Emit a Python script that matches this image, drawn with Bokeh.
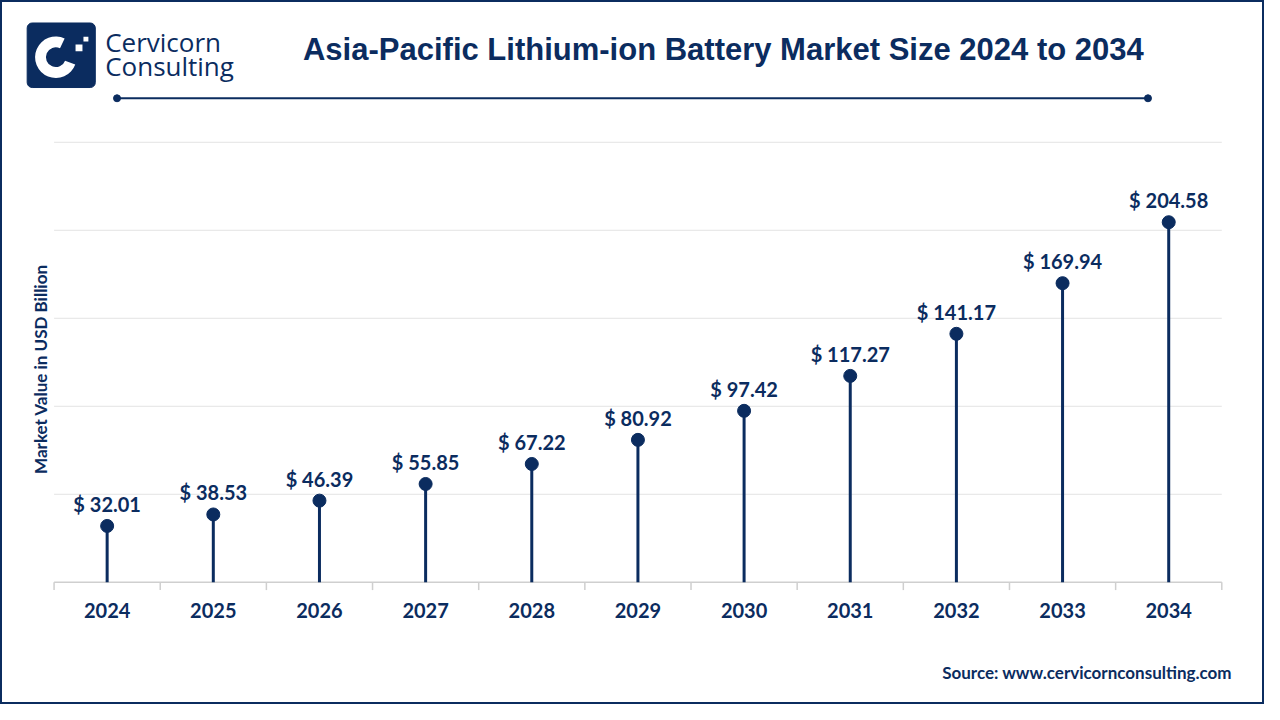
from bokeh.plotting import figure
from bokeh.models import Range1d
from bokeh.core.properties import value
from bokeh.embed import file_html
from bokeh.resources import INLINE

# ---- data ----
years = ["2024", "2025", "2026", "2027", "2028", "2029", "2030", "2031", "2032", "2033", "2034"]
market_values = [32.01, 38.53, 46.39, 55.85, 67.22, 80.92, 97.42, 117.27, 141.17, 169.94, 204.58]
grid_values = [0, 50, 100, 150, 200, 250]

title_text = "Asia-Pacific Lithium-ion Battery Market Size 2024 to 2034"
y_label = "Market Value in USD Billion"
source_text = "Source: www.cervicornconsulting.com"

NAVY = "#0b2c5f"
GRID = "#e3e3e3"
AXIS = "#cfcfcf"

W, H = 1264, 704
idx = list(range(len(years)))
labels = [f"$ {v:.2f}" for v in market_values]

p = figure(width=W, height=H, output_backend="svg", toolbar_location=None,
           x_range=Range1d(-1.00465, 10.9023), y_range=Range1d(-69.444, 330.556),
           x_axis_location=None, y_axis_location=None, min_border=0)
p.xgrid.visible = False
p.ygrid.visible = False
p.background_fill_color = "white"
p.border_fill_color = "white"
p.outline_line_color = NAVY
p.outline_line_width = 3

# decoration ranges in reference pixel space (y negative downward)
p.extra_x_ranges = {"px": Range1d(0, 1280)}
p.extra_y_ranges = {"py": Range1d(-720, 0)}
D = dict(x_range_name="px", y_range_name="py")

# ---- grid / axis ----
n = len(years)
gx0 = [-0.5] * (len(grid_values) - 1)
gx1 = [n - 0.5] * (len(grid_values) - 1)
p.segment(x0=gx0, y0=grid_values[1:], x1=gx1, y1=grid_values[1:], line_color=GRID, line_width=1)
p.segment(x0=[-0.5], y0=[0], x1=[n - 0.5], y1=[0], line_color=AXIS, line_width=1.5)
bounds = [i - 0.5 for i in range(n + 1)]
p.segment(x0=bounds, y0=[0] * len(bounds), x1=bounds, y1=[-4.44] * len(bounds),
          line_color=AXIS, line_width=1.5)

# ---- lollipops ----
p.segment(x0=idx, y0=[0] * n, x1=idx, y1=market_values, line_color=NAVY, line_width=3)
p.scatter(x=idx, y=market_values, size=13, fill_color=NAVY, line_color=NAVY)
p.text(x=idx, y=market_values, text=labels, y_offset=-22,
       text_align="center", text_baseline="middle",
       text_font=value("Lato"), text_font_style="bold", text_font_size="20px", text_color=NAVY)
p.text(x=idx, y=[0] * n, text=years, y_offset=28,
       text_align="center", text_baseline="middle",
       text_font=value("Lato"), text_font_style="bold", text_font_size="20px", text_color=NAVY)

# ---- y label ----
p.text(x=[41], y=[-377], text=[y_label], angle=1.5708, text_align="center", text_baseline="middle",
       text_font=value("Lato"), text_font_style="bold", text_font_size="17px", text_color=NAVY, **D)

# ---- title & decoration line ----
p.text(x=[732], y=[-50], text=[title_text], text_align="center", text_baseline="middle",
       text_font=value("Liberation Sans"), text_font_style="bold", text_font_size="31px",
       text_color=NAVY, **D)
p.segment(x0=[118], y0=[-100], x1=[1162], y1=[-100], line_color=NAVY, line_width=2, **D)
p.scatter(x=[118, 1162], y=[-100, -100], size=7, fill_color=NAVY, line_color=NAVY, **D)

# ---- logo ----
p.quad(left=[27], right=[96], top=[-23], bottom=[-89], fill_color=NAVY, line_color=NAVY,
       border_radius=5, **D)
p.annular_wedge(x=[56], y=[-58], inner_radius=10, outer_radius=21,
                start_angle=1.13, end_angle=5.93, fill_color="white", line_color=None, **D)
p.quad(left=[76, 84], right=[83, 89], top=[-45, -37], bottom=[-52, -42],
       fill_color="white", line_color=None, **D)
p.text(x=[106, 106], y=[-42, -67], text=["Cervicorn", "Consulting"],
       text_align="left", text_baseline="middle",
       text_font=value("Open Sans"), text_font_size="26px", text_color=NAVY, **D)

# ---- source ----
p.text(x=[1247], y=[-687], text=[source_text], text_align="right", text_baseline="middle",
       text_font=value("Lato"), text_font_style="bold", text_font_size="17px", text_color=NAVY, **D)

open("out.html", "w").write(file_html(p, INLINE))
